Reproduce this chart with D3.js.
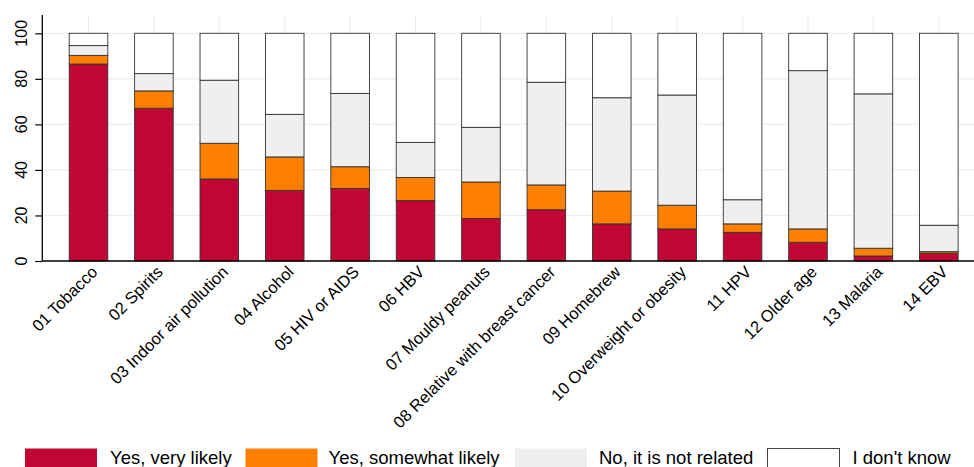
<!DOCTYPE html>
<html>
<head>
<meta charset="utf-8">
<script src="https://cdn.jsdelivr.net/npm/d3@7"></script>
<style>
  html, body { margin: 0; padding: 0; background: #fff; }
  svg { display: block; font-family: "Liberation Sans", Arial, Helvetica, sans-serif; }
</style>
</head>
<body>
<svg id="chart" width="974" height="467"></svg>
<script>
const categories = ["01 Tobacco", "02 Spirits", "03 Indoor air pollution", "04 Alcohol", "05 HIV or AIDS",
  "06 HBV", "07 Mouldy peanuts", "08 Relative with breast cancer", "09 Homebrew",
  "10 Overweight or obesity", "11 HPV", "12 Older age", "13 Malaria", "14 EBV"];
const seriesNames = ["Yes, very likely", "Yes, somewhat likely", "No, it is not related", "I don't know"];
const veryLikely     = [86.5, 67.1, 36.0, 31.0, 31.9, 26.5, 18.7, 22.5, 16.3, 14.1, 12.6, 8.2, 2.2, 3.4];
const somewhatLikely = [3.8, 7.6, 15.7, 14.7, 9.5, 10.2, 16.0, 10.9, 14.4, 10.4, 3.7, 5.9, 3.4, 0.7];
const notRelated     = [4.3, 7.6, 27.7, 18.7, 32.2, 15.4, 24.0, 45.1, 41.0, 48.4, 10.6, 69.5, 67.8, 11.6];
const dontKnow       = [5.4, 17.7, 20.6, 35.6, 26.4, 47.9, 41.3, 21.5, 28.3, 27.1, 73.1, 16.4, 26.6, 84.3];
const yTicks = [0, 20, 40, 60, 80, 100];
const colors = ["#c10534", "#ff7f00", "#efefef", "#ffffff"];

const table = categories.map((c, i) => ({
  cat: c,
  [seriesNames[0]]: veryLikely[i],
  [seriesNames[1]]: somewhatLikely[i],
  [seriesNames[2]]: notRelated[i],
  [seriesNames[3]]: dontKnow[i]
}));
const stacked = d3.stack().keys(seriesNames)(table);

const svg = d3.select("#chart");
const plotLeft = 42.3, plotRight = 974, plotTop = 15, plotBottom = 261;

const x = d3.scaleBand().domain(categories).range([55.8, 971.5]).paddingInner(0.41).paddingOuter(0.205);
const y = d3.scaleLinear().domain([0, 100]).range([plotBottom, 33.3]);
const color = d3.scaleOrdinal().domain(seriesNames).range(colors);

// gridlines
const grid = svg.append("g");
grid.selectAll("line.h").data(yTicks).join("line")
  .attr("x1", plotLeft).attr("x2", plotRight)
  .attr("y1", d => y(d)).attr("y2", d => y(d))
  .attr("stroke", "#eeeeee").attr("stroke-width", 1.2);
grid.selectAll("line.v").data(categories).join("line")
  .attr("x1", d => x(d) + x.bandwidth() / 2).attr("x2", d => x(d) + x.bandwidth() / 2)
  .attr("y1", plotTop).attr("y2", plotBottom)
  .attr("stroke", "#eeeeee").attr("stroke-width", 1.2);

// bars
svg.append("g").selectAll("g").data(stacked).join("g")
  .attr("fill", d => color(d.key))
  .selectAll("rect").data(d => d).join("rect")
  .attr("x", d => x(d.data.cat))
  .attr("width", x.bandwidth())
  .attr("y", d => y(d[1]))
  .attr("height", d => y(d[0]) - y(d[1]))
  .attr("stroke", "#333")
  .attr("stroke-width", 0.9);

// y axis
const yAxis = svg.append("g").attr("transform", `translate(${plotLeft},0)`)
  .call(d3.axisLeft(y).tickValues(yTicks).tickSize(7).tickFormat("").tickSizeOuter(0));
yAxis.select(".domain").attr("d", `M0,${plotTop}V${plotBottom}`).attr("stroke", "#000").attr("stroke-width", 1.3);
yAxis.selectAll(".tick line").attr("stroke", "#000").attr("stroke-width", 1.2);
yAxis.selectAll(".tick text").remove();
svg.append("g").selectAll("text").data(yTicks).join("text")
  .attr("transform", d => `translate(${plotLeft - 15},${y(d)}) rotate(-90)`)
  .attr("text-anchor", "middle")
  .attr("font-size", 16)
  .attr("fill", "#000")
  .text(d => d);

// x axis
const xAxis = svg.append("g").attr("transform", `translate(0,${plotBottom})`)
  .call(d3.axisBottom(x).tickSize(0).tickSizeOuter(0).tickPadding(0));
xAxis.select(".domain").attr("d", `M${plotLeft},0H${plotRight}`).attr("stroke", "#000").attr("stroke-width", 1.3);
xAxis.selectAll(".tick text")
  .attr("y", null).attr("dy", null)
  .attr("text-anchor", "end")
  .attr("transform", "translate(10,12) rotate(-45)")
  .attr("font-size", 16.5).attr("font-family", "Liberation Sans, Arial, sans-serif")
  .attr("fill", "#000");

// legend
const legendItems = [
  { key: seriesNames[0], bx: 25, tx: 110 },
  { key: seriesNames[1], bx: 245.5, tx: 328.5 },
  { key: seriesNames[2], bx: 515, tx: 599 },
  { key: seriesNames[3], bx: 767.5, tx: 852.5 }
];
const lg = svg.append("g");
lg.selectAll("rect").data(legendItems).join("rect")
  .attr("x", d => d.bx).attr("y", 448.5).attr("width", 72).attr("height", 24)
  .attr("fill", d => color(d.key))
  .attr("stroke", d => d.key === seriesNames[3] ? "#333" : "none")
  .attr("stroke-width", 0.9);
lg.selectAll("text").data(legendItems).join("text")
  .attr("x", d => d.tx).attr("y", 463.5)
  .attr("font-size", 18.5).attr("fill", "#000")
  .text(d => d.key);
</script>
</body>
</html>
